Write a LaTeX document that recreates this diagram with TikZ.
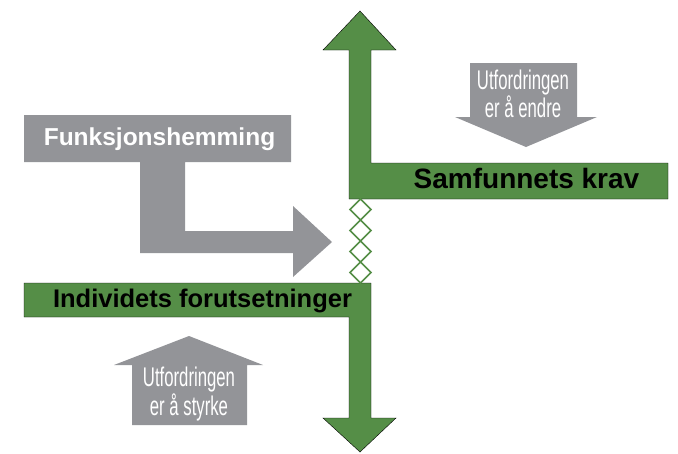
\documentclass[tikz,border=0pt]{standalone}
\usepackage{fontspec}
\setmainfont{Liberation Sans}
\newfontfamily\smalfont[FakeStretch=0.62]{Liberation Sans}
\definecolor{groenn}{RGB}{85,142,71}
\definecolor{graa}{RGB}{147,148,152}

\begin{document}
\begin{tikzpicture}[x=1pt,y=-1pt,line join=miter,
  groennpil/.style={fill=groenn},
  graapil/.style={fill=graa},
  rute/.style={draw=groenn,line width=1.6pt,fill=white},
  tittel/.style={font=\bfseries\fontsize{#1}{#1}\selectfont,inner sep=0pt,anchor=base},
  smal/.style={font=\smalfont\fontsize{27}{22.5}\selectfont,text=white,align=center,inner sep=0pt}]
\useasboundingbox (0,0) rectangle (678,453);

% samfunnets krav, pil opp
\draw[groennpil] (349,199) -- (349,50) -- (323,50) -- (360,11) -- (396,50)
  -- (371,50) -- (371,163) -- (668,163) -- (668,199) -- cycle;
% individets forutsetninger, pil ned
\draw[groennpil] (24,283) -- (371,283) -- (371,418) -- (396,418) -- (360,452)
  -- (323,418) -- (349,418) -- (349,317) -- (24,317) -- cycle;

% ruter mellom stolpene
\foreach \i in {0,...,3}
  \draw[rute] (360.5,199+21*\i) -- ++(10.5,10.5) -- ++(-10.5,10.5) -- ++(-10.5,-10.5) -- cycle;

% funksjonshemming
\fill[graapil] (24,115) -- (291,115) -- (291,162) -- (185,162) -- (185,231)
  -- (293,231) -- (293,206) -- (332,242) -- (293,277) -- (293,253)
  -- (140,253) -- (140,162) -- (24,162) -- cycle;

% utfordringene
\fill[graapil] (470,63) -- (577,63) -- (577,117) -- (597,117) -- (526,147)
  -- (455,117) -- (470,117) -- cycle;
\fill[graapil] (189,336) -- (263,365) -- (247,365) -- (247,425) -- (132,425)
  -- (132,365) -- (114,365) -- cycle;

\node[tittel=24.5,text=white] (funk) at (159.5,145) {Funksjonshemming};
\node[tittel=28] (samf) at (526.5,188.3) {Samfunnets krav};
\node[tittel=25.5] (indiv) at (202.5,307.3) {Individets forutsetninger};

\node[smal] (endre) at (523,94) {Utfordringen\\er å endre};
\node[smal] (styrke) at (189,394) {Utfordringen\\er å styrke};
\end{tikzpicture}
\end{document}
